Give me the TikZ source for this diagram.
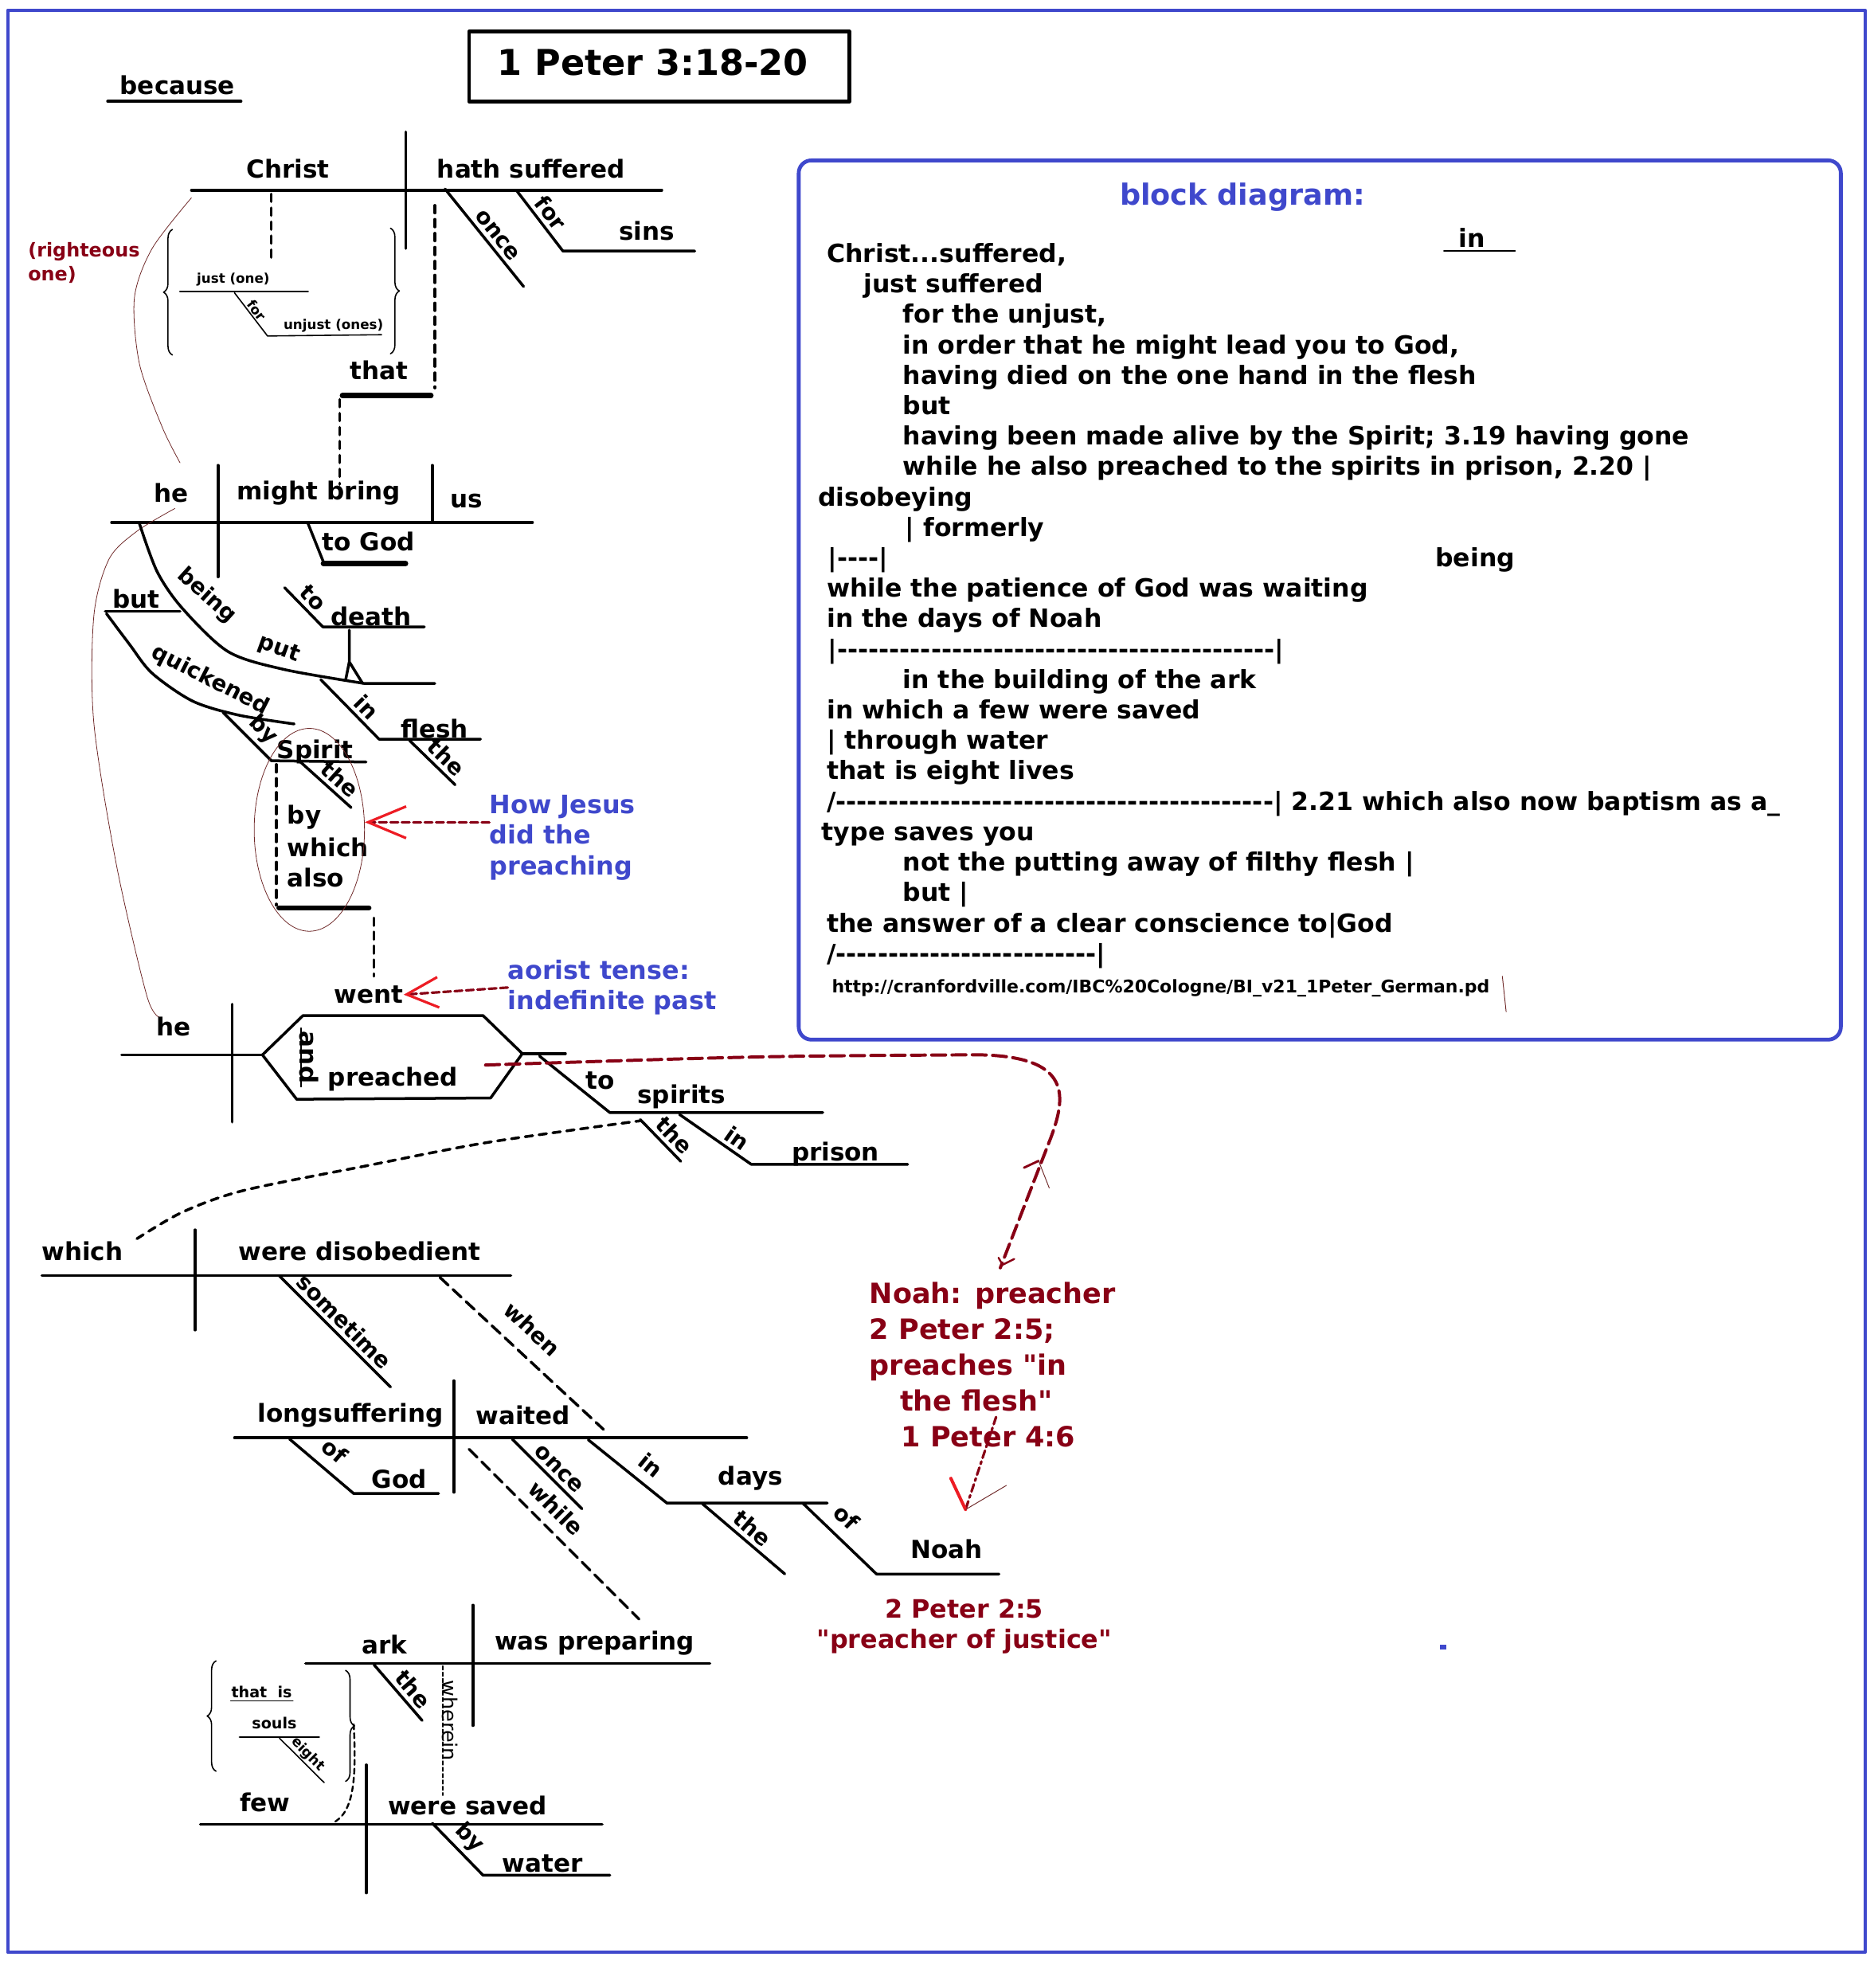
\documentclass[tikz,border=0pt]{standalone}
\usepackage{fontspec}
\newfontfamily\dv{DejaVu Sans}
\usetikzlibrary{arrows.meta,decorations.pathreplacing,shapes.geometric}
\definecolor{pblue}{RGB}{63,72,204}
\definecolor{pdark}{RGB}{136,0,21}
\definecolor{pred}{RGB}{237,28,36}
\definecolor{pthin}{RGB}{110,40,40}
\begin{document}
\begin{tikzpicture}[x=1pt,y=-1pt,line cap=round,line join=round,
  ln/.style={line width=2.2pt},
  thk/.style={line width=4pt},
  dsh/.style={line width=2.2pt,dash pattern=on 6pt off 5pt},
  ldsh/.style={line width=2.2pt,dash pattern=on 9pt off 5pt},
  thn/.style={line width=0.5pt,draw=pthin},
  brc/.style={line width=1pt,decorate,decoration={brace,amplitude=7pt}},
  wd/.style={font=\dv\bfseries\fontsize{19.5}{23}\selectfont,inner sep=0pt},
  slf/.style={font=\dv\bfseries\fontsize{17.5}{20}\selectfont,inner sep=0pt},
  sl/.style={slf,inner sep=3pt,sloped,above},
  sm/.style={font=\dv\bfseries\fontsize{10.5}{12}\selectfont,inner sep=0pt},
  blk/.style={font=\dv\bfseries\fontsize{19.8}{24}\selectfont,inner sep=0pt,anchor=base west},
  note/.style={font=\dv\bfseries\fontsize{20}{24}\selectfont,text=pblue,align=left,inner sep=0pt},
  barb/.style={pdark,line width=2pt,dash pattern=on 6pt off 3pt}]
\useasboundingbox (0,0) rectangle (1478,1568);

% frame and title
\draw[pblue,line width=2.5pt] (6,8) rectangle (1471,1540);
\draw[line width=3pt] (370,25) rectangle (670,80);
\node[font=\dv\bfseries\fontsize{28}{32}\selectfont,inner sep=0pt] (title) at (515,49) {1 Peter 3:18-20};
\node[wd] (because) at (140,67) {because};
\draw[line width=2.5pt] (85,80) -- (190,80);

% Christ hath suffered
\draw[ln] (151,150) -- (522,150);
\draw[ln] (320,104) -- (320,196);
\node[wd] (christ) at (227,133) {Christ};
\node[wd] (hath) at (419,133) {hath suffered};
\draw[ln] (351,149) -- node[sl,pos=.55] (once) {once} (413,226);
\draw[ln] (408,151) -- node[sl] (for) {for} (444,198) -- (548,198);
\node[wd] (sins) at (510,182) {sins};

% just (one) for unjust (ones)
\draw[dsh] (214,153) -- (214,204);
\draw[brc] (136,280) -- (136,181);
\draw[brc] (308,180) -- (308,279);
\draw[line width=1.5pt] (142,230) -- (243,230);
\draw[line width=1pt] (185,231) -- node[sm,sloped,above=1pt] (forsm) {for} (211,265) -- (301,264);
\node[sm] (just) at (184,220.5) {just (one)};
\node[sm] (unjust) at (263,257) {unjust (ones)};
\node[font=\dv\bfseries\fontsize{15}{19}\selectfont,text=pdark,align=left,anchor=north west,inner sep=0pt] (righteous) at (22,191) {(righteous\\one)};
\draw[thn] plot[smooth] coordinates {(151,156) (120,196) (106,235) (110,287) (128,337) (142,365)};

% that
\draw[dsh] (343,162) -- (343,306);
\draw[thk] (270,312) -- (340,312);
\node[wd] (that) at (299,292) {that};
\draw[dsh] (268,315) -- (268,382);

% he might bring us
\draw[ln] (88,412) -- (420,412);
\draw[ln] (172,367) -- (172,455);
\draw[ln] (341,367) -- (341,412);
\node[wd] (he) at (135,389) {he};
\node[wd] (bring) at (251.5,389) {might bring};
\node[wd] (us) at (368,395) {us};
\draw[ln] (243,413) -- (255,443);
\draw[thk] (255,444.5) -- (320,444.5);
\node[wd] (togod) at (290.6,427) {to God};
\draw[thn] plot[smooth] coordinates {(138,401) (108,419) (86,441) (74,486) (74,570) (92,683) (116,786) (127,803)};

% being put to death in the flesh
\draw[ln] plot[smooth] coordinates {(110,413) (124,451) (144,480) (180,514) (224,528) (287,539)} -- (343,539);
\node[slf,rotate=-42] (being) at (163,470) {being};
\node[slf,rotate=-20] (put) at (220,512) {put};
\draw[ln] (224.5,463.5) -- node[sl] (to) {to} (254.6,494.4) -- (334.7,494.4);
\node[wd] (death) at (292.6,486) {death};
\draw[ln] (275.5,497) -- (275.5,522) (272.7,536) -- (275.5,522) -- (286,539);
\draw[ln] (253,536) -- node[sl,pos=.62] (inflesh) {in} (299,583) -- (379,583);
\node[wd] (flesh) at (342.8,574.6) {flesh};
\draw[ln] (323,584) -- node[sl,pos=.6] (theflesh) {the} (359,619);

% but quickened by the Spirit
\draw[ln] (83,482) -- (142,482);
\node[wd] (but) at (107.5,472.6) {but};
\draw[ln] plot[smooth] coordinates {(84,484) (102,508) (120,531) (152,553) (188,564) (232,571)};
\node[slf,rotate=-27] (quick) at (166,536.5) {quickened};
\draw[ln] (176,562) -- node[sl,pos=.6] (by) {by} (214,600) -- (288.7,601);
\node[wd] (spirit) at (248.6,592.8) {Spirit};
\draw[ln] (237,601) -- node[sl,pos=.6] (thespirit) {the} (277,637);
\draw[dsh] (218,603) -- (218,714);
\node[wd,anchor=west] (bw1) at (226.5,644.5) {by};
\node[wd,anchor=west] (bw2) at (226.5,668.5) {which};
\node[wd,anchor=west] (bw3) at (226.5,692) {also};
\draw[thk] (220,716) -- (291,716);
\node[draw=pthin,line width=0.5pt,ellipse,minimum width=87pt,minimum height=160pt,inner sep=0pt] (oval) at (244,654.5) {};
\draw[dsh] (295,724) -- (295,770);

% notes in blue
\node[note,anchor=north west] (howjesus) at (386,627) {How Jesus\\did the\\preaching};
\node[note,anchor=north west] (aorist) at (400.5,757) {aorist tense:\\indefinite past};
\draw[barb,-{Straight Barb[color=pred,length=30pt,width=25pt,line width=2pt]}] ([yshift=12pt]howjesus.west) -- ([yshift=6pt]oval.east);

% he went and preached
\draw[ln] (96,832) -- (207,832);
\draw[ln] (183,792) -- (183,885);
\draw[ln] (207,832) -- (239,801) -- (381,801) -- (412,831) -- (387,866) -- (234,867) -- cycle;
\draw[ln] (412,831) -- (446,831);
\node[wd] (went) at (291,784.5) {went};
\draw[barb,-{Straight Barb[color=pred,length=25pt,width=24pt,line width=2pt]}] (aorist.west) -- (went.east);
\node[wd] (he2) at (137,810) {he};
\node[wd] (preached) at (310,851) {preached};
\node[wd,rotate=-90] (and) at (244,834) {and};
\draw[line width=1.5pt] (237.5,811) -- (237.5,857);

% to the spirits in prison
\draw[ln] (425.6,833) -- (481,877.5) -- (649,877.5);
\node[wd] (tospirits) at (473.7,852.5) {to};
\node[wd] (spirits) at (537.6,865) {spirits};
\draw[ln] (505,883) -- node[sl,pos=.6] (thespirits) {the} (537,916);
\draw[ln] (536,879) -- node[sl,pos=.7] (inprison) {in} (592.5,918.3) -- (716,918.3);
\node[wd] (prison) at (659,910) {prison};

% Noah link
\draw[pdark,line width=2.5pt,dash pattern=on 11pt off 5pt] (383,840) .. controls (600,833) .. (760,832) .. controls (845,830) and (842,862) .. (829,897) -- (789,1000);
\draw[pdark,line width=1.8pt] (807.7,921) -- (819.2,915.6);
\draw[pthin,line width=0.6pt] (819.2,915.6) -- (827.6,937);
\draw[pdark,line width=1.5pt] (787.6,992) -- (790.8,997.6) -- (800,993);
\node[font=\dv\bfseries\fontsize{22}{28.3}\selectfont,text=pdark,align=left,anchor=north west,inner sep=0pt] (noahnote) at (685.7,1011) {Noah: preacher\\2 Peter 2:5;\\preaches "in\\\hspace*{24pt}the flesh"\\\hspace*{25pt}1 Peter 4:6};
\coordinate (noahtip) at (761.6,1190.6);
\draw[pdark,line width=2pt,dash pattern=on 6pt off 3pt on 2pt off 3pt] (785.7,1117.6) -- (noahtip);
\draw[pred,line width=2.5pt] (750,1166) -- (noahtip);
\draw[pthin,line width=0.6pt] (noahtip) -- (793.8,1171.6);
\node[font=\dv\bfseries\fontsize{20}{24}\selectfont,text=pdark,align=center,inner sep=0pt] (justice) at (760.6,1283) {2 Peter 2:5\\"preacher of justice"};

% which were disobedient
\draw[dsh] plot[smooth] coordinates {(108,977) (144,956) (192,939) (289,919.5) (385,901) (505,884)};
\draw[ln] (33,1006) -- (403,1006);
\draw[ln] (154,970) -- (154,1049);
\node[wd] (which) at (65,987) {which};
\node[wd] (disob) at (283.7,987) {were disobedient};
\draw[ln] (220,1006) -- node[sl] (sometime) {sometime} (308,1094);
\draw[ldsh] (347,1007.5) -- node[sl,pos=.46,above=9pt] (when) {when} (476,1127.4);

% longsuffering of God waited
\draw[ln] (185,1134) -- (589,1134);
\draw[ln] (358,1089) -- (358,1177);
\node[wd] (longs) at (276.5,1116.3) {longsuffering};
\node[wd] (waited) at (412.6,1116.3) {waited};
\draw[ln] (228.4,1135) -- node[sl,above=5pt] (ofgod) {of} (279,1178) -- (346,1178);
\node[wd] (god) at (315,1166.6) {God};
\draw[ln] (404,1135) -- node[sl,pos=.55] (once2) {once} (459,1190);
\draw[ldsh] (370,1143) -- node[sl,pos=.43,above=5pt] (while) {while} (504,1277);
\draw[ln] (464,1135.6) -- node[sl,pos=.64,above=5pt] (indays) {in} (526,1185.5) -- (652.6,1185.5);
\node[wd] (days) at (592,1166) {days};
\draw[ln] (554,1186) -- node[sl] (thedays) {the} (619,1241.4);
\draw[ln] (633.6,1186) -- node[sl,pos=.4,above=5pt] (ofnoah) {of} (691.4,1241.5) -- (788,1241.5);
\node[wd] (noah) at (746.7,1222) {Noah};

% ark was preparing
\draw[ln] (241,1312) -- (560,1312);
\draw[ln] (373,1266) -- (373,1361);
\node[wd] (ark) at (303.4,1297) {ark};
\node[wd] (wasprep) at (469,1296) {was preparing};
\draw[ln] (295,1313) -- node[sl,pos=.6] (theark) {the} (333,1357);
\draw[line width=1pt,dash pattern=on 3pt off 2pt] (349.3,1314) -- (349.3,1416);
\node[font=\dv\fontsize{16}{18}\selectfont,inner sep=0pt,rotate=-90] (wherein) at (355,1357) {wherein};

% few were saved by water
\draw[ln] (158,1439) -- (475,1439);
\draw[ln] (289,1392) -- (289,1493);
\node[wd] (few) at (209,1421.7) {few};
\node[wd] (saved) at (368.8,1424) {were saved};
\draw[ln] (341,1438) -- node[sl] (bywater) {by} (381,1479) -- (481,1479);
\node[wd] (water) at (428,1470) {water};

% that is eight souls
\draw[brc] (170.4,1397) -- (170.4,1310);
\draw[brc] (272.6,1317.5) -- (272.6,1405);
\node[font=\dv\bfseries\fontsize{12}{14}\selectfont,inner sep=0pt,anchor=base] (thatis) at (206.4,1339) {that\ \ is};
\draw[line width=1.2pt] (182,1341.5) -- (231,1341.5);
\node[font=\dv\bfseries\fontsize{12}{14}\selectfont,inner sep=0pt] (souls) at (216.4,1359) {souls};
\draw[line width=1.5pt] (189,1370) -- (251.7,1370);
\draw[line width=1pt] (220.5,1371) -- node[font=\dv\bfseries\fontsize{11}{13}\selectfont,inner sep=1pt,sloped,above] (eight) {eight} (255.7,1406);
\draw[line width=1.5pt,dash pattern=on 4pt off 3pt] (279,1360) .. controls (281,1400) and (280,1430) .. (262,1438);

% block diagram
\draw[pblue,line width=3pt,rounded corners=10pt] (630,126.5) rectangle (1452,820);
\node[font=\dv\bfseries\fontsize{23}{26}\selectfont,text=pblue,anchor=base,inner sep=0pt] (blockhead) at (980,162) {block diagram:};
\node[blk] (inblk) at (1150.5,195) {in};
\draw[line width=1.5pt] (1139,198) -- (1195,198);
\node[blk] (b1) at (652,207) {Christ...suffered,};
\node[blk] (b2) at (681,231) {just suffered};
\node[blk] (b3) at (712,255) {for the unjust,};
\node[blk] (b4) at (712,279) {in order that he might lead you to God,};
\node[blk] (b5) at (712,303) {having died on the one hand in the flesh};
\node[blk] (b6) at (712,327) {but};
\node[blk] (b7) at (712,351) {having been made alive by the Spirit; 3.19 having gone};
\node[blk] (b8) at (712,375) {while he also preached to the spirits in prison, 2.20 |};
\node[blk] (b9) at (645,399) {disobeying};
\node[blk] (b10) at (714,423) {| formerly};
\node[blk] (b11) at (653,447) {|----|};
\node[blk] (being2) at (1132,447) {being};
\node[blk] (b12) at (652,471) {while the patience of God was waiting};
\node[blk] (b13) at (652,495) {in the days of Noah};
\node[blk] (b14) at (653,519) {|------------------------------------------|};
\node[blk] (b15) at (712,543) {in the building of the ark};
\node[blk] (b16) at (652,567) {in which a few were saved};
\node[blk] (b17) at (652,591) {| through water};
\node[blk] (b18) at (652,615) {that is eight lives};
\node[blk] (b19) at (652,639) {/------------------------------------------| 2.21 which also now baptism as a\_};
\node[blk] (b20) at (648,663) {type saves you};
\node[blk] (b21) at (712,687) {not the putting away of filthy flesh |};
\node[blk] (b22) at (712,711) {but |};
\node[blk] (b23) at (652,735) {the answer of a clear conscience to|God};
\node[blk] (b24) at (652,759) {/-------------------------|};
\node[font=\dv\bfseries\fontsize{13.8}{16}\selectfont,inner sep=0pt,anchor=base west] (url) at (656,783) {http://cranfordville.com/IBC\%20Cologne/BI\_v21\_1Peter\_German.pd};
\draw[pthin,line width=0.6pt] (1185,770) -- (1188,798);
\fill[pblue] (1136,1297) rectangle (1141,1301);
\end{tikzpicture}
\end{document}
